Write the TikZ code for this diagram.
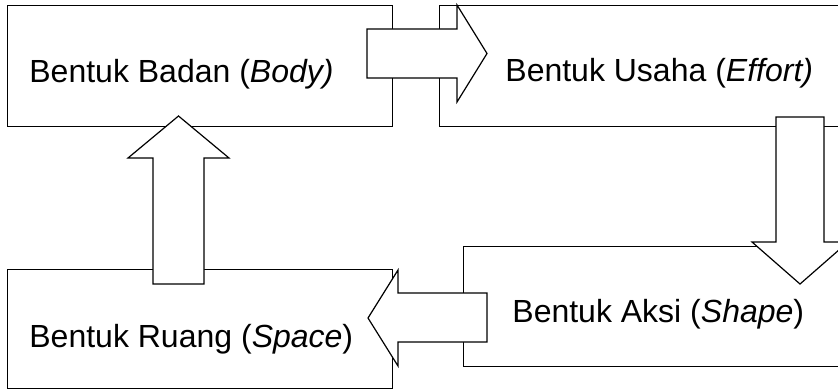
\documentclass[tikz,border=0pt]{standalone}
\usepackage{fontspec}
\setmainfont{Liberation Sans}
\usepackage{tikz}
\usetikzlibrary{positioning}

\begin{document}
\begin{tikzpicture}[x=0.5pt,y=-0.5pt,
		box/.style={draw, line width=0.6pt, inner sep=0pt, anchor=north west},
		lbl/.style={inner sep=0pt, anchor=base west, font=\fontsize{16pt}{19pt}\selectfont},
		blockarrow/.style={draw, fill=white, line width=0.6pt, line join=miter}]
			\useasboundingbox (0,0) rectangle (838,390);
			% kotak
			\node[box, minimum width=192.5pt, minimum height=60.5pt] (body) at (7,5) {};
			\node[box, minimum width=230.5pt, minimum height=60.5pt] (effort) at (439,5) {};
			\node[box, minimum width=218.5pt, minimum height=60pt] (shape) at (463,246) {};
			\node[box, minimum width=192.5pt, minimum height=59.5pt] (space) at (7,269) {};
			\node[lbl] (bodytext) at (29,83) {Bentuk Badan (\textit{Body)}};
			\node[lbl] (efforttext) at (505,82) {Bentuk Usaha (\textit{Effort)}};
			\node[lbl] (shapetext) at (512,322) {Bentuk Aksi (\textit{Shape})};
			\node[lbl] (spacetext) at (29,347) {Bentuk Ruang (\textit{Space})};
			% panah blok
			\filldraw[blockarrow] (367,29) -- (457,29) -- (457,5) -- (487,53.5) -- (457,102) -- (457,78) -- (367,78) -- cycle;
			\filldraw[blockarrow] (776,117) -- (824,117) -- (824,242) -- (848,242) -- (800,284) -- (752,242) -- (776,242) -- cycle;
			\filldraw[blockarrow] (487,293) -- (398,293) -- (398,270) -- (368,318) -- (398,366) -- (398,342) -- (487,342) -- cycle;
			\filldraw[blockarrow] (153,284) -- (153,158) -- (128,158) -- (178.5,116) -- (229,158) -- (204,158) -- (204,284) -- cycle;
		\end{tikzpicture}
\end{document}
